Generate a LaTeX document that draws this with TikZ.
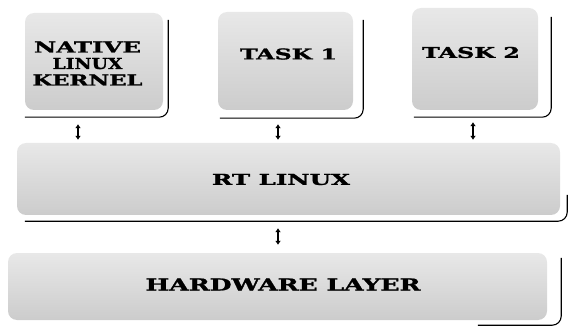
\documentclass[tikz,border=0pt]{standalone}
\usepackage{fontspec}
\setmainfont{DejaVu Serif}
\newfontfamily\heavyfont{DejaVu Serif Bold}[FakeBold=1.2]
\usepackage{graphicx}
\usetikzlibrary{calc,arrows.meta}
\tikzset{
  layerbox/.style={rectangle, rounded corners=9pt, draw=none, inner sep=0pt,
    top color=gray!18, bottom color=gray!40},
  edgeline/.style={draw=black, line width=1.1pt, rounded corners=9pt},
  boxtext/.style={inner sep=0pt, font=\heavyfont, align=center},
  dbl/.style={line width=1.2pt, {Latex[length=4pt,width=6pt]}-{Latex[length=4pt,width=6pt]}}
}
\newcommand{\fitlbl}[3]{\resizebox{#1pt}{#2pt}{#3}}
\begin{document}
\begin{tikzpicture}[x=1pt,y=-1pt]
\useasboundingbox (0,0) rectangle (568,326);
% boxes
\node[layerbox, minimum width=138pt, minimum height=97pt] (nat) at (94,61.5) {};
\node[layerbox, minimum width=135pt, minimum height=98pt] (t1) at (285.5,61) {};
\node[layerbox, minimum width=126pt, minimum height=102pt] (t2) at (475,59) {};
\node[layerbox, minimum width=543pt, minimum height=72pt] (rt) at (288.5,179) {};
\node[layerbox, minimum width=539pt, minimum height=67pt] (hw) at (277.5,286.5) {};
% shadow edges
\draw[edgeline] ($(nat.north east)+(5,7)$) |- ($(nat.south west)+(0,7)$);
\draw[edgeline] ($(t1.north east)+(10,8)$) |- ($(t1.south west)+(2,8)$);
\draw[edgeline] ($(t2.north east)+(13,9)$) |- ($(t2.south west)+(2,7)$);
\draw[edgeline] ($(rt.north east)+(7,52)$) |- ($(rt.south west)+(8,6)$);
\draw[edgeline] ($(hw.north east)+(14,5)$) |- ($(hw.south west)+(470,5)$);
% texts
\node[boxtext] (natT) at (87.5,63.5) {\fitlbl{107}{11}{NATIVE}\\[4.5pt]\fitlbl{70}{11}{LINUX}\\[4.5pt]\fitlbl{110}{11}{KERNEL}};
\node[boxtext] (t1T) at (288.5,54) {\fitlbl{97}{11}{TASK 1}};
\node[boxtext] (t2T) at (471,52.5) {\fitlbl{98}{11}{TASK 2}};
\node[boxtext] (rtT) at (281,179.5) {\fitlbl{138}{11}{RT LINUX}};
\node[boxtext] (hwT) at (283,284.5) {\fitlbl{275}{12}{HARDWARE LAYER}};
% connectors
\coordinate (c1) at (78,0);
\coordinate (c2) at (278,0);
\coordinate (c3) at (473,0);
\draw[dbl] ([yshift=-14pt]nat.south -| c1) -- ([yshift=3pt]rt.north -| c1);
\draw[dbl] ([yshift=-14pt]t1.south -| c2) -- ([yshift=3pt]rt.north -| c2);
\draw[dbl] ([yshift=-12pt]t2.south -| c3) -- ([yshift=3pt]rt.north -| c3);
\draw[dbl] ([yshift=-13pt]rt.south -| c2) -- ([yshift=8pt]hw.north -| c2);
\end{tikzpicture}
\end{document}
